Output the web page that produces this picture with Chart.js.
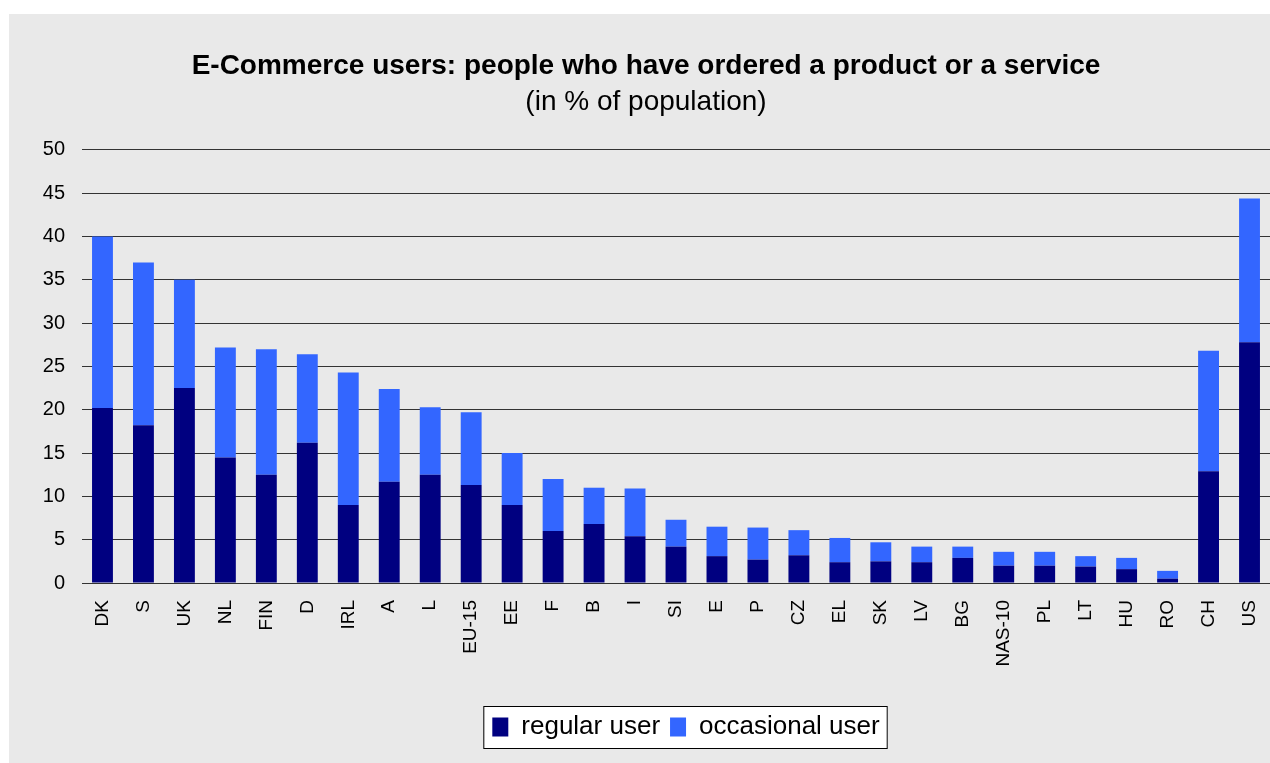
<!DOCTYPE html>
<html>
<head>
<meta charset="utf-8">
<script src="https://cdn.jsdelivr.net/npm/chart.js@4"></script>
<style>
  body { margin: 0; background: #fff; }
  #wrap { position: absolute; left: 9px; top: 14px; width: 1261px; height: 749px; background: #e9e9e9; }
</style>
</head>
<body>
<div id="wrap"><canvas id="myChart" width="1261" height="749"></canvas></div>
<script>
// countries
const labels = ["DK", "S", "UK", "NL", "FIN", "D", "IRL", "A", "L", "EU-15", "EE", "F", "B", "I", "SI", "E", "P", "CZ", "EL", "SK", "LV", "BG", "NAS-10", "PL", "LT", "HU", "RO", "CH", "US"];
// % of population
const regularUser = [20.2, 18.2, 22.5, 14.5, 12.5, 16.2, 9.0, 11.7, 12.5, 11.3, 9.0, 6.0, 6.8, 5.4, 4.2, 3.1, 2.7, 3.2, 2.4, 2.5, 2.4, 2.9, 2.0, 2.0, 1.9, 1.6, 0.5, 12.9, 27.8];
const occasionalUser = [19.8, 18.8, 12.5, 12.7, 14.5, 10.2, 15.3, 10.7, 7.8, 8.4, 6.0, 6.0, 4.2, 5.5, 3.1, 3.4, 3.7, 2.9, 2.8, 2.2, 1.8, 1.3, 1.6, 1.6, 1.2, 1.3, 0.9, 13.9, 16.6];
const yTicks = [0, 5, 10, 15, 20, 25, 30, 35, 40, 45, 50];

const font = "'Liberation Sans', Arial, sans-serif";

// legend sits a bit right of the plot centre, in a white box
const legendFrame = {
  id: "legendFrame",
  afterLayout(chart) {
    chart.legend.left += 10;
    chart.legend.right += 10;
  },
  beforeDraw(chart) {
    const boxes = chart.legend && chart.legend.legendHitBoxes;
    if (!boxes || !boxes.length) return;
    let l = Infinity, r = -Infinity, cy = 0;
    boxes.forEach((b) => {
      l = Math.min(l, b.left);
      r = Math.max(r, b.left + b.width);
      cy = b.top + b.height / 2;
    });
    const ctx = chart.ctx;
    ctx.save();
    ctx.fillStyle = "#ffffff";
    ctx.strokeStyle = "#000000";
    ctx.lineWidth = 1;
    ctx.fillRect(l - 8, cy - 21, r - l + 16, 42);
    ctx.strokeRect(l - 8.5, cy - 20.5, r - l + 16, 42);
    ctx.restore();
  },
};

var ctx = document.getElementById("myChart").getContext("2d");
var myChart = new Chart(ctx, {
  type: "bar",
  data: {
    labels: labels,
    datasets: [
      {
        label: "regular user",
        data: regularUser,
        backgroundColor: "#000080",
        barPercentage: 0.51,
        categoryPercentage: 1,
      },
      {
        label: "occasional user",
        data: occasionalUser,
        backgroundColor: "#3366ff",
        barPercentage: 0.51,
        categoryPercentage: 1,
      },
    ],
  },
  options: {
    responsive: false,
    animation: false,
    layout: { padding: { left: 13, right: 0, top: 0, bottom: 13 } },
    plugins: {
      title: {
        display: true,
        text: "E-Commerce users: people who have ordered a product or a service",
        color: "#000",
        font: { family: font, size: 28, weight: "bold" },
        padding: { top: 35.4, bottom: 0 },
      },
      subtitle: {
        display: true,
        text: "(in % of population)",
        color: "#000",
        font: { family: font, size: 28 },
        padding: { top: 2.8, bottom: 30.5 },
      },
      legend: {
        position: "bottom",
        fullSize: false,
        labels: {
          color: "#000",
          font: { family: font, size: 26 },
          boxWidth: 16,
          boxHeight: 19,
          padding: 10,
        },
      },
      tooltip: { enabled: false },
    },
    scales: {
      x: {
        stacked: true,
        grid: { display: false },
        border: { display: false },
        ticks: {
          color: "#000",
          font: { family: font, size: 19 },
          minRotation: 90,
          maxRotation: 90,
          autoSkip: false,
          padding: 9,
        },
        afterFit(scale) {
          scale.height = 121;
          scale.paddingLeft = 0;
          scale.paddingRight = 0;
        },
      },
      y: {
        stacked: true,
        min: 0,
        max: 50,
        border: { display: false },
        grid: { color: "#333333", lineWidth: 1, drawTicks: false },
        ticks: {
          color: "#000",
          font: { family: font, size: 20 },
          padding: 17,
          stepSize: 5,
          callback: (v) => (yTicks.includes(v) ? v : ""),
        },
        afterFit(scale) {
          scale.width = 60;
        },
      },
    },
  },
  plugins: [legendFrame],
});
</script>
</body>
</html>
